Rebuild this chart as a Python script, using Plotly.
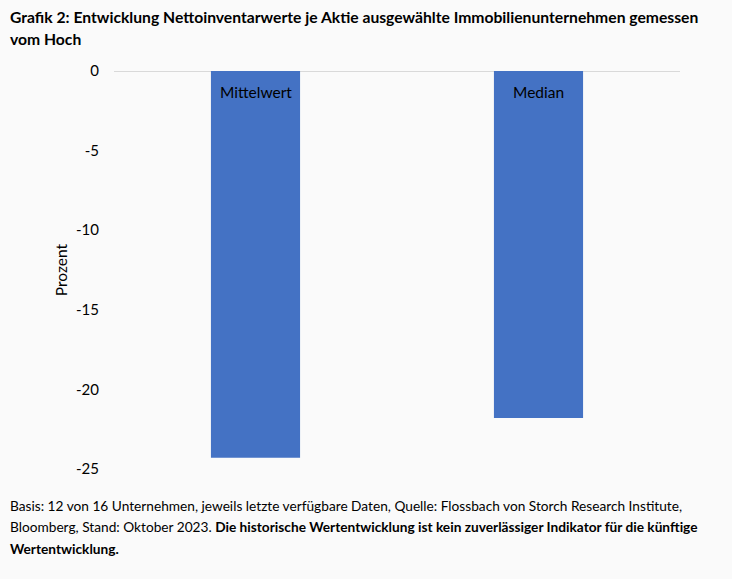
import plotly.graph_objects as go

categories = ["Mittelwert", "Median"]
values = [-24.3, -21.8]
tick_vals = [0, -5, -10, -15, -20, -25]
tick_text = ["0", "-5", "-10", "-15", "-20", "-25"]

title_lines = [
    "Grafik 2: Entwicklung Nettoinventarwerte je Aktie ausgewählte Immobilienunternehmen gemessen",
    "vom Hoch",
]
foot_lines = [
    "Basis: 12 von 16 Unternehmen, jeweils letzte verfügbare Daten, Quelle: Flossbach von Storch Research Institute,",
    "Bloomberg, Stand: Oktober 2023. <b>Die historische Wertentwicklung ist kein zuverlässiger Indikator für die künftige</b>",
    "<b>Wertentwicklung.</b>",
]

FONT = "Lato"
W, H = 732, 579
L, R, T, B = 114, 52, 71, 110
PW, PH = W - L - R, H - T - B

def px_x(x):
    return (x - L) / PW

def px_y(y):
    return 1 - (y - T) / PH

fig = go.Figure()
fig.add_trace(go.Bar(
    x=categories, y=values,
    marker=dict(color="#4472c4", line=dict(width=0)),
    hoverinfo="skip",
))

annotations = []
for c in categories:
    annotations.append(dict(
        x=c, y=0, xref="x", yref="y", text=c, showarrow=False,
        yanchor="middle", yshift=-21, font=dict(family=FONT, size=15.5, color="#000000"),
    ))
for i, line in enumerate(title_lines):
    annotations.append(dict(
        x=px_x(8), y=px_y(17 + 22 * i), xref="paper", yref="paper", text="<b>" + line + "</b>",
        showarrow=False, xanchor="left", yanchor="middle",
        font=dict(family=FONT, size=15.7, color="#000000"),
    ))
for i, line in enumerate(foot_lines):
    annotations.append(dict(
        x=px_x(8), y=px_y(505 + 21.5 * i), xref="paper", yref="paper", text=line,
        showarrow=False, xanchor="left", yanchor="middle",
        font=dict(family=FONT, size=13.7, color="#000000"),
    ))

fig.update_layout(
    width=W, height=H,
    margin=dict(l=L, r=R, t=T, b=B, pad=0),
    paper_bgcolor="#fafafa", plot_bgcolor="#fafafa",
    bargap=0.685,
    showlegend=False,
    annotations=annotations,
    xaxis=dict(showticklabels=False, showgrid=False, zeroline=False, showline=False, ticks=""),
    yaxis=dict(
        range=[-25, 0], tickvals=tick_vals, ticktext=tick_text,
        showgrid=False, zeroline=True, zerolinecolor="#d9d9d9", zerolinewidth=1,
        showline=False, ticks="", ticklabelstandoff=14,
        tickfont=dict(family=FONT, size=15, color="#000000"),
        title=dict(text="Prozent", font=dict(family=FONT, size=15.5, color="#000000"), standoff=4),
    ),
)

fig.write_html(
    "out.html",
    config={"displayModeBar": False},
    post_script="document.body.style.margin='0';document.body.style.background='#fafafa';",
)
